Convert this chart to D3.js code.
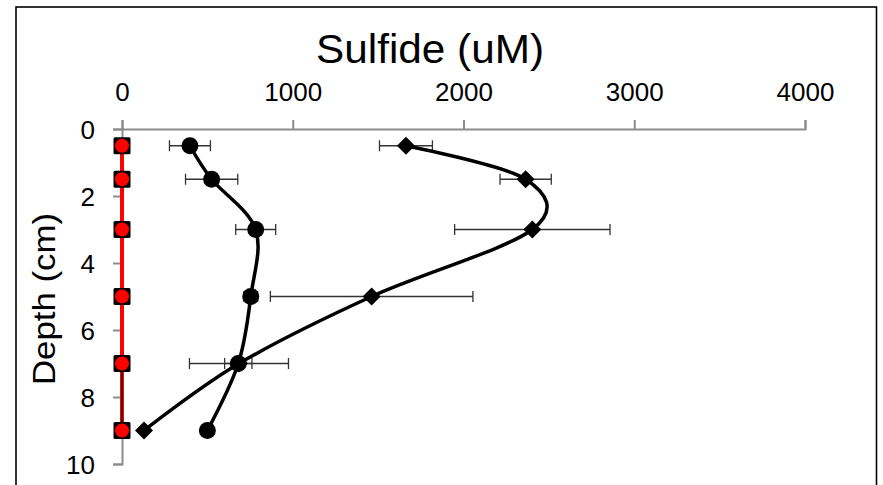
<!DOCTYPE html>
<html>
<head>
<meta charset="utf-8">
<script src="https://cdn.jsdelivr.net/npm/d3@7"></script>
<style>
  html, body { margin: 0; padding: 0; background: #fff; }
  svg { display: block; }
</style>
</head>
<body>
<svg id="chart" width="883" height="485"></svg>
<script>
// ---- data ----
const depths = [0.5, 1.5, 3, 5, 7, 9];
const circleValues = [398, 525, 783, 754, 681, 500];
const circleErrors = [120, 153, 117, 40, 80, 0];
const diamondValues = [1663, 2364, 2403, 1462, 685, 129];
const diamondErrors = [155, 150, 455, 593, 290, 0];
const squareValues = [0, 0, 0, 0, 0, 0];
const redValues = [0, 0, 0, 0, 0, 0];
const xTicks = [0, 1000, 2000, 3000, 4000];
const yTicks = [0, 2, 4, 6, 8, 10];
const titleText = "Sulfide (uM)";
const yTitleText = "Depth (cm)";

const svg = d3.select("#chart");

// frame
svg.append("rect").attr("x", 16).attr("y", 7).attr("width", 860.5).attr("height", 490)
  .attr("fill", "#fff").attr("stroke", "#000").attr("stroke-width", 1.6);

const x = d3.scaleLinear().domain([0, 4000]).range([122, 805]);
const y = d3.scaleLinear().domain([0, 10]).range([129, 464]);

const axisColor = "#8c8c8c";
const tickFont = "'Liberation Sans', Arial, sans-serif";

// x axis (top)
const gx = svg.append("g").attr("transform", `translate(0,${y(0)})`)
  .call(d3.axisTop(x).tickValues(xTicks).tickSize(9).tickSizeOuter(9).tickPadding(19).tickFormat(d3.format("d")));
// y axis (left)
const gy = svg.append("g").attr("transform", `translate(${x(0)},0)`)
  .call(d3.axisLeft(y).tickValues(yTicks).tickSize(9).tickSizeOuter(9).tickPadding(18).tickFormat(d3.format("d")));

[gx, gy].forEach(g => {
  g.select(".domain").attr("stroke", axisColor).attr("stroke-width", 2);
  g.selectAll(".tick line").attr("stroke", axisColor).attr("stroke-width", 2);
  g.selectAll(".tick text").attr("fill", "#000").style("font-family", tickFont).style("font-size", "26px");
});
gy.selectAll(".tick text").attr("dy", "0.36em");

// titles
svg.append("text").attr("x", 430).attr("y", 63).attr("text-anchor", "middle")
  .attr("textLength", 228).attr("lengthAdjust", "spacingAndGlyphs")
  .style("font-family", tickFont).style("font-size", "40px").text(titleText);
svg.append("text").attr("transform", `translate(55,299) rotate(-90)`).attr("text-anchor", "middle")
  .attr("textLength", 172).attr("lengthAdjust", "spacingAndGlyphs")
  .style("font-family", tickFont).style("font-size", "32px").text(yTitleText);

const mk = (vals, errs) => depths.map((d, i) => ({ d, v: vals[i], e: errs ? errs[i] : 0 }));
const circles = mk(circleValues, circleErrors);
const diamonds = mk(diamondValues, diamondErrors);
const squares = mk(squareValues);
const reds = mk(redValues);

const smooth = d3.line().x(p => x(p.v)).y(p => y(p.d)).curve(d3.curveCardinal.tension(0));
const straight = d3.line().x(p => x(p.v)).y(p => y(p.d));

// error bars
function errorBars(data) {
  const g = svg.append("g").attr("stroke", "#333").attr("stroke-width", 1.3).attr("fill", "none");
  data.filter(p => p.e > 0).forEach(p => {
    const yy = y(p.d), x1 = x(p.v - p.e), x2 = x(p.v + p.e);
    g.append("line").attr("x1", x1).attr("x2", x2).attr("y1", yy).attr("y2", yy);
    g.append("line").attr("x1", x1).attr("x2", x1).attr("y1", yy - 5.5).attr("y2", yy + 5.5);
    g.append("line").attr("x1", x2).attr("x2", x2).attr("y1", yy - 5.5).attr("y2", yy + 5.5);
  });
}
errorBars(circles);
errorBars(diamonds);

// lines
svg.append("path").attr("d", smooth(circles)).attr("fill", "none").attr("stroke", "#000").attr("stroke-width", 3.5);
svg.append("path").attr("d", smooth(diamonds)).attr("fill", "none").attr("stroke", "#000").attr("stroke-width", 3.5);
svg.append("path").attr("d", straight(reds)).attr("fill", "none").attr("stroke", "#ff0000").attr("stroke-width", 4);
svg.append("path").attr("d", straight(squares.filter(p => p.d >= 7))).attr("fill", "none").attr("stroke", "#000").attr("stroke-width", 1.5);

// markers
svg.append("g").selectAll("circle").data(circles).join("circle")
  .attr("cx", p => x(p.v)).attr("cy", p => y(p.d)).attr("r", 8.5).attr("fill", "#000");
svg.append("g").selectAll("path").data(diamonds).join("path")
  .attr("transform", p => `translate(${x(p.v)},${y(p.d)})`)
  .attr("d", "M0,-9L9,0L0,9L-9,0Z").attr("fill", "#000");
svg.append("g").selectAll("rect").data(squares).join("rect")
  .attr("x", p => x(p.v) - 8.5).attr("y", p => y(p.d) - 8.5).attr("width", 17).attr("height", 17)
  .attr("rx", 1.5).attr("fill", "#000");
svg.append("g").selectAll("circle").data(reds).join("circle")
  .attr("cx", p => x(p.v)).attr("cy", p => y(p.d)).attr("r", 7).attr("fill", "#ff0000");
</script>
</body>
</html>
